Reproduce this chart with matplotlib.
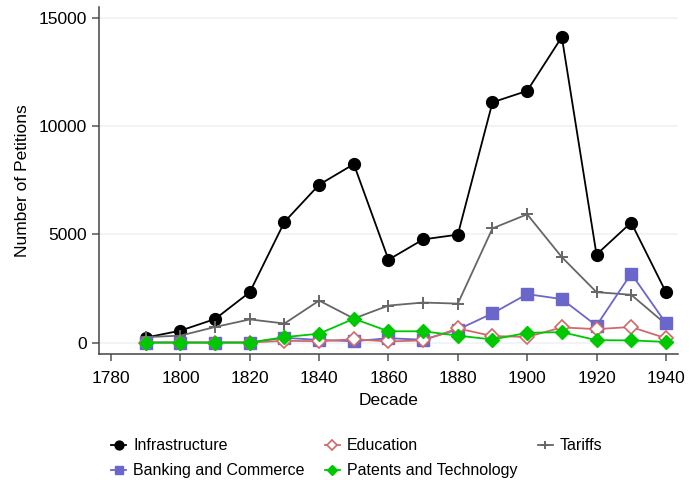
import matplotlib
matplotlib.use("Agg")
import matplotlib.pyplot as plt

plt.rcParams['font.family'] = ['Liberation Sans', 'DejaVu Sans']

decades = [1790, 1800, 1810, 1820, 1830, 1840, 1850, 1860, 1870, 1880,
           1890, 1900, 1910, 1920, 1930, 1940]

infrastructure = [230, 550, 1090, 2330, 5580, 7300, 8250, 3830, 4770, 4990,
                  11110, 11640, 14130, 4070, 5550, 2340]
tariffs = [250, 320, 720, 1070, 880, 1940, 1110, 1710, 1850, 1800,
           5280, 5930, 3950, 2330, 2210, 850]
banking = [0, 0, 0, 0, 220, 120, 60, 200, 130, 600,
           1350, 2240, 2010, 780, 3190, 900]
education = [0, 0, 0, 0, 80, 60, 150, 50, 100, 650,
             300, 260, 700, 620, 720, 200]
patents = [0, 0, 0, 0, 250, 410, 1100, 520, 520, 320,
           140, 450, 480, 110, 100, 30]

fig = plt.figure(figsize=(6.89, 4.8), dpi=100)
ax = fig.add_axes([0.1437, 0.2625, 0.8403, 0.723])

ax.plot(decades, infrastructure, color='black', lw=1.3, marker='o', ms=8.5,
        label='Infrastructure', zorder=3)
ax.plot(decades, tariffs, color='#666666', lw=1.3, marker='+', ms=8.5, mew=1.4,
        label='Tariffs', zorder=3)
ax.plot(decades, banking, color='#6a66cc', lw=1.3, marker='s', ms=8.3,
        label='Banking and Commerce', zorder=3)
ax.plot(decades, education, color='#d06a6a', lw=1.3, marker='D', ms=6.8,
        mfc='white', mew=1.2, label='Education', zorder=3)
ax.plot(decades, patents, color='#00c800', lw=1.3, marker='D', ms=7.4,
        label='Patents and Technology', zorder=3)

ax.set_xlim(1776.5, 1943.5)
ax.set_ylim(-530, 15520)
ax.set_xticks(range(1780, 1941, 20))
ax.set_yticks([0, 5000, 10000, 15000])
ax.yaxis.grid(True, color='#eef2f6', lw=1.2, zorder=0)

for s in ['top', 'right']:
    ax.spines[s].set_visible(False)
for s in ['left', 'bottom']:
    ax.spines[s].set_color('#444444')
    ax.spines[s].set_linewidth(1.1)
ax.tick_params(axis='both', direction='out', length=5, width=1.1,
               color='#555555', labelsize=12.5)
ax.tick_params(axis='x', pad=7.5)
ax.tick_params(axis='y', pad=3.5)

ax.set_xlabel('Decade', fontsize=12.5, labelpad=5)
ax.set_ylabel('Number of Petitions', fontsize=12.5, labelpad=6)

h, l = ax.get_legend_handles_labels()
order = ['Infrastructure', 'Banking and Commerce', 'Education',
         'Patents and Technology', 'Tariffs']
hs = [h[l.index(o)] for o in order]
fig.legend(hs, order, ncol=3, loc='upper left', bbox_to_anchor=(0.161, 0.087),
           frameon=False, fontsize=11.5, handlelength=0.95, handletextpad=0.45,
           columnspacing=1.25, labelspacing=0.62, borderaxespad=0, borderpad=0,
           markerscale=0.75)

fig.savefig('out.png', dpi=100)
